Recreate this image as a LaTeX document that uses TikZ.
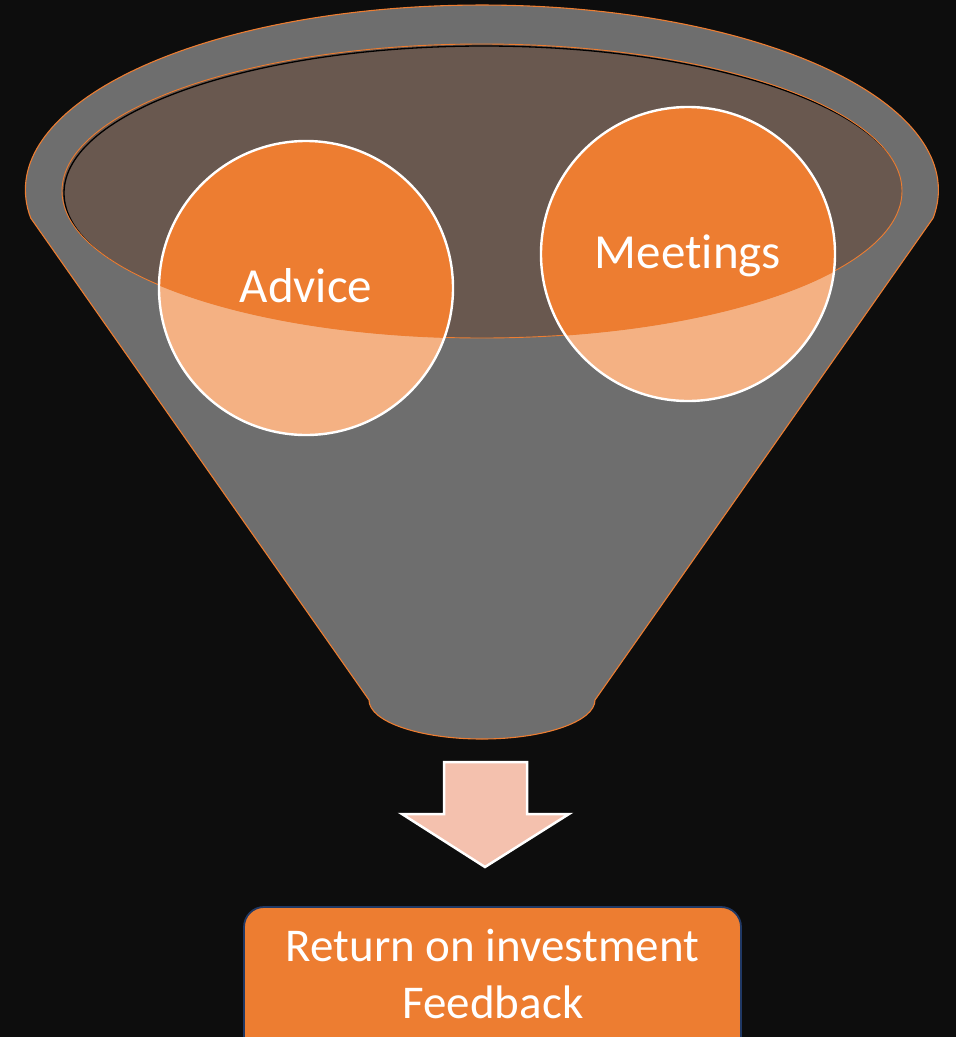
\documentclass[tikz,border=0pt]{standalone}
\usepackage{fontspec}
\setmainfont[Ligatures=NoCommon]{Carlito}
\definecolor{bg}{HTML}{0D0D0D}
\definecolor{funnelgray}{HTML}{6E6E6E}
\definecolor{rimbrown}{HTML}{69584F}
\definecolor{mainorange}{HTML}{ED7D31}
\definecolor{lightorange}{HTML}{F4B183}
\definecolor{arrowpink}{HTML}{F4C1AE}
\definecolor{navy}{HTML}{203864}
\begin{document}
\begin{tikzpicture}[x=1pt,y=-1pt,
  circlbl/.style={text=white, font=\fontsize{49}{59}\selectfont, anchor=base, inner sep=0pt},
  boxlbl/.style={text=white, font=\fontsize{47}{57}\selectfont, anchor=base, inner sep=0pt},
  circedge/.style={draw=white, line width=2.4pt}]
\clip (0,0) rectangle (956,1037);
\useasboundingbox (0,0) rectangle (956,1037);
\fill[bg] (0,0) rectangle (956,1037);
% funnel body
\path[fill=funnelgray, draw=mainorange, line width=1.1pt, line join=round]
  (30.7,218) arc[start angle=171.3, end angle=368.7, x radius=456.5, y radius=185]
  -- (595,700) arc[start angle=0, end angle=180, x radius=113, y radius=39] -- cycle;
% rim interior
\fill[rimbrown] (482,191) ellipse[x radius=420, y radius=147];
% circles, light part
\fill[lightorange] (306,288) circle[radius=147];
\fill[lightorange] (688,254) circle[radius=147];
% circles inside rim
\begin{scope}
  \clip (482,191) ellipse[x radius=420, y radius=147];
  \fill[mainorange] (306,288) circle[radius=147];
  \fill[mainorange] (688,254) circle[radius=147];
  \draw[black, line width=1.3pt] (484,193) ellipse[x radius=420, y radius=147];
\end{scope}
\draw[mainorange, line width=0.9pt] (482,191) ellipse[x radius=420, y radius=147];
\draw[circedge] (306,288) circle[radius=147];
\draw[circedge] (688,254) circle[radius=147];
\node[circlbl] (advice) at (306,302) {Advice};
\node[circlbl] (meetings) at (688,268) {Meetings};
% arrow
\draw[draw=white, line width=2.5pt, fill=arrowpink, line join=miter]
  (444,762) -- (527,762) -- (527,814) -- (569,814) -- (485,867) -- (402,814) -- (444,814) -- cycle;
% result box
\draw[fill=mainorange, draw=navy, line width=1.8pt, rounded corners=20pt]
  (244,907) rectangle (741,1070);
\node[boxlbl] (roi) at (492.5,961) {Return on investment};
\node[boxlbl] (feedback) at (493,1018) {Feedback};
\end{tikzpicture}
\end{document}
